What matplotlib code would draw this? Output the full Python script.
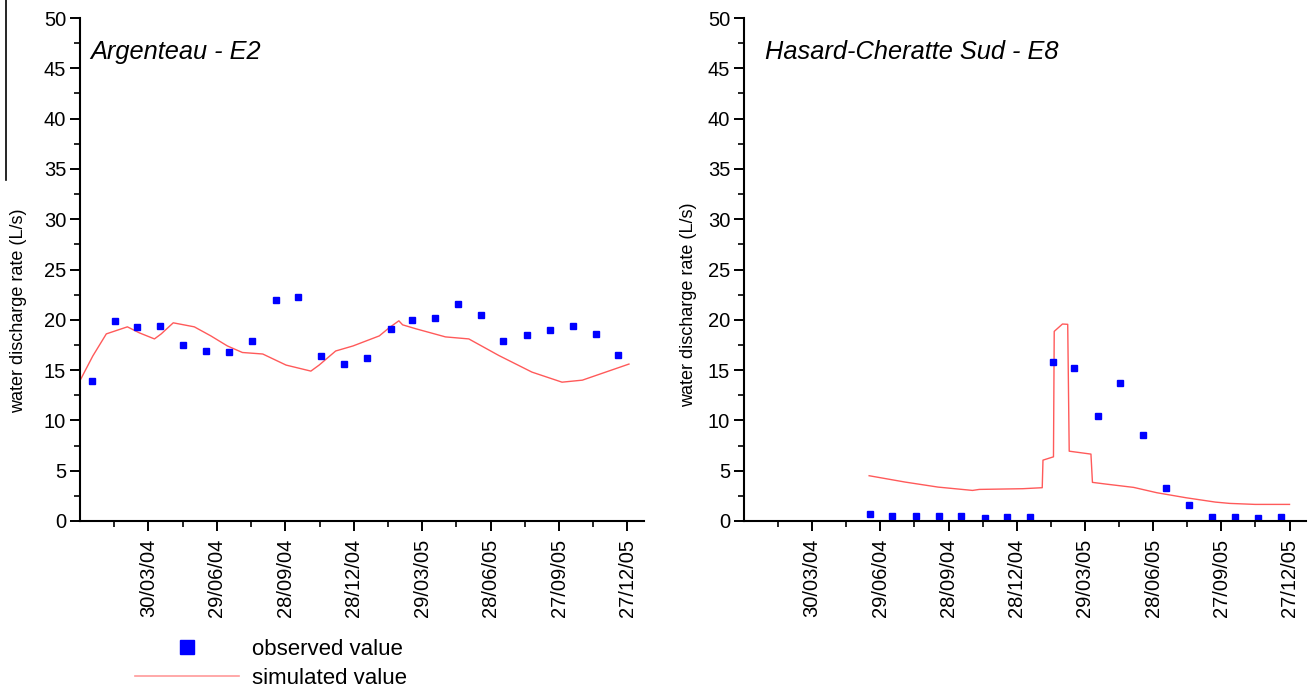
import numpy as np
import pandas as pd
import matplotlib
matplotlib.use('Agg')
import matplotlib.pyplot as plt
import matplotlib.dates as mdates
from matplotlib.lines import Line2D
from matplotlib.ticker import FixedLocator, MultipleLocator

plt.rcParams['font.family'] = ['Liberation Sans', 'DejaVu Sans']

# Argenteau - E2
e2_obs_dates = ['15/01/04', '15/02/04', '15/03/04', '15/04/04', '15/05/04', '15/06/04',
                '15/07/04', '15/08/04', '15/09/04', '15/10/04', '15/11/04', '15/12/04',
                '15/01/05', '15/02/05', '15/03/05', '15/04/05', '15/05/05', '15/06/05',
                '15/07/05', '15/08/05', '15/09/05', '15/10/05', '15/11/05', '15/12/05']
e2_obs = [13.9, 19.9, 19.3, 19.4, 17.5, 16.9, 16.8, 17.9, 22.0, 22.3, 16.4, 15.6,
          16.2, 19.1, 19.95, 20.2, 21.6, 20.5, 17.9, 18.5, 19.0, 19.35, 18.6, 16.5]
e2_sim_dates = ['31/12/03', '16/01/04', '03/02/04', '02/03/04', '18/03/04', '07/04/04',
                '16/04/04', '02/05/04', '30/05/04', '21/06/04', '13/07/04', '02/08/04',
                '29/08/04', '29/09/04', '01/11/04', '12/11/04', '04/12/04', '27/12/04',
                '31/01/05', '13/02/05', '26/02/05', '03/03/05', '21/03/05', '29/04/05',
                '30/05/05', '09/07/05', '22/08/05', '01/10/05', '28/10/05', '29/12/05']
e2_sim = [14.1, 16.4, 18.6, 19.3, 18.7, 18.1, 18.6, 19.7, 19.3, 18.4, 17.4, 16.75,
          16.6, 15.5, 14.9, 15.5, 16.9, 17.4, 18.4, 19.2, 19.9, 19.5, 19.1, 18.3,
          18.1, 16.45, 14.8, 13.8, 14.0, 15.6]

# Hasard-Cheratte Sud - E8
e8_obs_dates = ['15/06/04', '15/07/04', '15/08/04', '15/09/04', '15/10/04', '15/11/04',
                '15/12/04', '15/01/05', '15/02/05', '15/03/05', '15/04/05', '15/05/05',
                '15/06/05', '15/07/05', '15/08/05', '15/09/05', '15/10/05', '15/11/05',
                '15/12/05']
e8_obs = [0.7, 0.5, 0.5, 0.5, 0.45, 0.3, 0.35, 0.4, 15.85, 15.25, 10.4, 13.7,
          8.5, 3.25, 1.55, 0.4, 0.35, 0.3, 0.35]
e8_sim_dates = ['14/06/04', '01/08/04', '14/09/04', '30/10/04', '08/11/04', '05/01/05',
                '31/01/05', '01/02/05', '15/02/05', '16/02/05', '27/02/05', '06/03/05',
                '08/03/05', '06/04/05', '08/04/05', '26/04/05', '02/06/05', '03/07/05',
                '11/08/05', '19/09/05', '08/10/05', '11/11/05', '27/12/05']
e8_sim = [4.5, 3.87, 3.37, 3.04, 3.14, 3.21, 3.31, 6.05, 6.38, 18.85, 19.58, 19.55,
          6.94, 6.65, 3.84, 3.67, 3.34, 2.81, 2.31, 1.88, 1.75, 1.65, 1.65]

tick_dates = ['30/03/04', '29/06/04', '28/09/04', '28/12/04', '29/03/05',
              '28/06/05', '27/09/05', '27/12/05']
x_start, x_end = '30/12/03', '18/01/06'


def to_num(dates):
    return mdates.date2num(pd.to_datetime(dates, format='%d/%m/%y'))


fig = plt.figure(figsize=(13.11, 6.93), dpi=100)
ax1 = fig.add_axes([80 / 1311, 172 / 693, 564 / 1311, 503 / 693])
ax2 = fig.add_axes([744 / 1311, 172 / 693, 562 / 1311, 503 / 693])

panels = [
    (ax1, e2_obs_dates, e2_obs, e2_sim_dates, e2_sim, 'Argenteau - E2', 0.018, -0.094, 0.417),
    (ax2, e8_obs_dates, e8_obs, e8_sim_dates, e8_sim, 'Hasard-Cheratte Sud - E8', 0.037, -0.084, 0.43),
]

major = to_num(tick_dates)
minor = np.concatenate([[major[0] - 45.5], major + 45.5])

for ax, od, ov, sd, sv, title, tx, lx, ly in panels:
    ax.plot(to_num(sd), sv, color='#ff5a5a', lw=1.0)
    ax.plot(to_num(od), ov, 's', color='#0000ff', ms=5, mec='#0000ff')

    ax.set_xlim(to_num([x_start])[0], to_num([x_end])[0])
    ax.set_ylim(0, 50)
    ax.xaxis.set_major_locator(FixedLocator(major))
    ax.xaxis.set_minor_locator(FixedLocator(minor))
    ax.xaxis.set_major_formatter(mdates.DateFormatter('%d/%m/%y'))
    ax.yaxis.set_major_locator(MultipleLocator(5))
    ax.yaxis.set_minor_locator(MultipleLocator(2.5))

    for s in ['top', 'right']:
        ax.spines[s].set_visible(False)
    for s in ['left', 'bottom']:
        ax.spines[s].set_linewidth(1.5)

    ax.tick_params(which='major', direction='out', length=7, width=1.4, labelsize=14.5)
    ax.tick_params(which='minor', direction='out', length=4, width=1.2)
    ax.tick_params(axis='y', pad=3)
    ax.tick_params(axis='x', pad=6)
    plt.setp(ax.get_xticklabels(), rotation=90)

    ax.set_ylabel('water discharge rate (L/s)', fontsize=13)
    ax.yaxis.set_label_coords(lx, ly)
    ax.text(tx, 0.932, title, transform=ax.transAxes, fontsize=18.3,
            style='italic', va='center', ha='left')

# stray border line at left edge
fig.add_artist(Line2D([6 / 1311, 6 / 1311], [1, 1 - 180 / 693], color='black', lw=1.2))

handles = [
    Line2D([], [], ls='none', marker='s', color='#0000ff', ms=10.5),
    Line2D([], [], color='#ff9a9a', lw=1.2),
]
fig.legend(handles, ['observed value', 'simulated value'], loc='upper left',
           bbox_to_anchor=(135 / 1311, 1 - 639 / 693), frameon=False,
           fontsize=16, handlelength=4.7, handletextpad=0.55,
           labelspacing=0.35, borderpad=0, borderaxespad=0)

fig.savefig('out.png', dpi=100)
